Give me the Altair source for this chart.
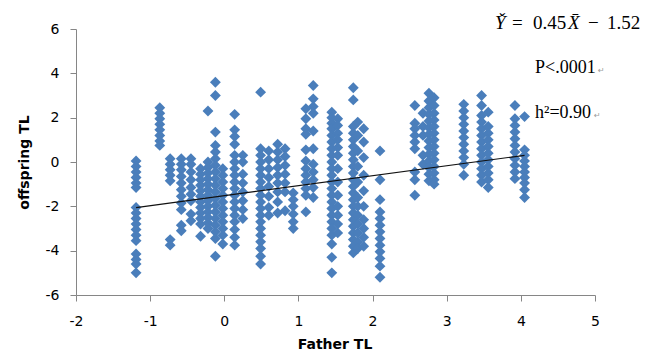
import altair as alt
import pandas as pd

# Father TL column positions and offspring TL values
father_values = [-1.19, -0.87, -0.73, -0.58, -0.45, -0.32, -0.22, -0.12, -0.02, 0.14,
                 0.25, 0.49, 0.60, 0.72, 0.82, 0.93, 1.10, 1.20, 1.45, 1.53,
                 1.74, 1.80, 1.88, 2.10, 2.57, 2.68, 2.76, 2.83, 3.23, 3.47,
                 3.56, 3.92, 4.05]

offspring_by_father = [
    [0.05, -0.2, -0.45, -0.7, -0.95, -1.15, -2.05, -2.3, -2.55, -2.8, -3.05, -3.3, -3.55, -4.15, -4.4, -4.6, -5.0],
    [2.45, 2.2, 1.95, 1.7, 1.45, 1.2, 0.95, 0.75],
    [0.15, -0.1, -0.35, -0.6, -0.85, -3.5, -3.75],
    [0.15, -0.1, -0.35, -0.65, -0.95, -1.25, -1.55, -1.85, -2.15, -2.85, -3.1],
    [0.15, -0.1, -0.45, -0.8, -1.15, -1.45, -1.75, -2.35, -2.65],
    [-0.3, -0.55, -0.8, -1.05, -1.3, -1.55, -1.8, -2.05, -2.3, -2.55, -2.8, -3.35],
    [2.3, 0.0, -0.25, -0.5, -0.75, -1.0, -1.25, -1.5, -1.75, -2.0, -2.25, -2.5, -2.75, -3.0],
    [3.6, 3.0, 1.35, 0.75, 0.45, 0.15, -0.15, -0.45, -0.75, -1.05, -1.35, -1.65, -1.95, -2.25, -2.55, -2.85, -3.15, -3.45, -4.25],
    [-0.3, -0.6, -0.9, -1.2, -1.5, -1.8, -2.1, -2.4, -2.7, -3.0, -3.3, -3.7],
    [2.15, 1.45, 1.15, 0.8, 0.3, 0.0, -0.3, -0.6, -0.9, -1.2, -1.5, -1.8, -2.1, -2.4, -2.7, -3.05, -3.4, -3.75],
    [0.3, 0.0, -0.55, -0.95, -1.35, -1.75, -2.15, -2.55],
    [3.15, 0.6, 0.3, 0.0, -0.3, -0.6, -0.9, -1.2, -1.5, -1.8, -2.1, -2.4, -2.7, -3.0, -3.3, -3.6, -3.9, -4.25, -4.6],
    [0.5, 0.1, -0.3, -0.7, -1.1, -1.55, -2.05, -2.4],
    [0.8, 0.45, 0.1, -0.25, -0.6, -0.95, -1.35, -1.8, -2.3],
    [0.6, 0.25, -0.15, -0.55, -0.95, -1.35, -2.2],
    [-1.4, -1.7, -2.0, -2.35, -2.7, -3.0],
    [2.4, 1.95, 1.5, 1.25, 0.55, 0.05, -0.3, -0.6, -0.9, -1.2, -1.5, -2.25],
    [3.45, 2.85, 2.5, 2.2, 1.4, 0.6, -0.1, -0.45, -0.8, -1.15, -1.6],
    [2.25, 2.0, 1.75, 1.5, 1.2, 0.9, 0.6, 0.3, 0.0, -0.3, -0.6, -0.9, -1.2, -1.5, -1.8, -2.1, -2.4, -2.7, -3.0, -3.3, -3.7, -4.3, -5.0],
    [1.95, 1.65, 1.3, 1.0, 0.65, 0.3, -0.3, -0.9, -1.5, -2.0, -2.4, -2.8, -3.2],
    [3.35, 2.8, 1.6, 1.3, 1.0, 0.7, 0.4, 0.1, -0.2, -0.5, -0.8, -1.1, -1.4, -1.7, -2.0, -2.3, -2.6, -2.9, -3.2, -3.5, -3.8, -4.1],
    [1.8, 1.2, 0.5, -0.2, -0.9, -1.6, -2.0, -2.4, -2.8, -3.2, -3.6, -3.9],
    [1.5, 0.9, 0.2, -0.6, -1.3, -2.0, -2.6, -3.0, -3.4, -3.8],
    [0.5, -0.8, -1.7, -2.25, -2.55, -2.85, -3.15, -3.45, -3.75, -4.05, -4.35, -4.7, -5.2],
    [2.55, 1.75, 1.5, 1.2, 0.9, 0.6, -0.45, -0.8, -1.5],
    [2.2, 1.6, 1.2, 0.3, -0.1],
    [3.1, 2.75, 2.45, 2.15, 1.85, 1.55, 1.25, 0.95, 0.65, 0.35, 0.05, -0.25, -0.55, -0.85],
    [2.9, 2.55, 2.2, 1.9, 1.6, 1.3, 1.0, 0.7, 0.4, 0.1, -0.2, -0.5, -0.8, -1.0],
    [2.6, 2.3, 2.0, 1.7, 1.4, 1.1, 0.8, 0.5, 0.2, -0.1, -0.6],
    [3.0, 2.55, 2.1, 1.8, 1.5, 1.2, 0.9, 0.6, 0.3, 0.0, -0.3, -0.6, -0.9],
    [2.25, 1.6, 1.3, 1.0, 0.7, 0.4, 0.1, -0.2, -0.5, -0.8, -1.15],
    [2.55, 1.95, 1.65, 1.35, 1.05, 0.75, 0.45, 0.15, -0.15, -0.45, -0.75],
    [2.05, 0.55, 0.3, 0.05, -0.2, -0.45, -0.7, -0.95, -1.25, -1.6],
]

# regression line
slope = 0.45
intercept = -1.52
line_x = [-1.19, 4.05]

x_ticks = [-2, -1, 0, 1, 2, 3, 4, 5]
y_ticks = [-6, -4, -2, 0, 2, 4, 6]

rows = []
for fx, ys in zip(father_values, offspring_by_father):
    for yv in ys:
        rows.append({"father": fx, "offspring": yv})
points_df = pd.DataFrame(rows)
line_df = pd.DataFrame({"father": line_x, "offspring": [slope * v + intercept for v in line_x]})

W, H = 519, 266

xscale = alt.Scale(domain=[-2, 5], nice=False, zero=False)
yscale = alt.Scale(domain=[-6, 6], nice=False, zero=False)

x_axis = alt.Axis(values=x_ticks, title="Father TL", labelFlush=False, labelPadding=13,
                  labelExpr="'' + datum.value",
                  titleX=W / 2 - 1, titleY=49, titleBaseline="middle", titleAlign="center")
y_axis = alt.Axis(values=y_ticks, title="offspring TL", labelFlush=False, labelPadding=11,
                  labelExpr="'' + datum.value",
                  titleX=-52, titleY=H / 2, titleBaseline="middle", titleAlign="center")

points = alt.Chart(points_df).mark_point(
    shape="diamond", filled=True, size=118, color="#4A7EBB", opacity=1
).encode(
    x=alt.X("father:Q", scale=xscale, axis=x_axis),
    y=alt.Y("offspring:Q", scale=yscale, axis=y_axis),
)

line = alt.Chart(line_df).mark_line(color="#111111", strokeWidth=1.2).encode(
    x=alt.X("father:Q", scale=xscale),
    y=alt.Y("offspring:Q", scale=yscale),
)

serif = "Liberation Serif"
eq_parts = [
    ("Y\u030C", 419, "italic"),
    ("=", 436, "normal"),
    ("0.45", 457, "normal"),
    ("X\u0304", 492, "italic"),
    ("\u2212", 512, "normal"),
    ("1.52", 531, "normal"),
]
texts = []
for txt, px, style in eq_parts:
    texts.append(
        alt.Chart(pd.DataFrame({"t": [txt]})).mark_text(
            font=serif, fontSize=19, fontStyle=style, align="left", baseline="alphabetic", color="#000000"
        ).encode(text="t:N", x=alt.value(px), y=alt.value(0))
    )

notes = [("P<.0001", 459, 44), ("h\u00B2=0.90", 459, 89)]
for txt, px, py in notes:
    texts.append(
        alt.Chart(pd.DataFrame({"t": [txt]})).mark_text(
            font=serif, fontSize=18, align="left", baseline="alphabetic", color="#000000"
        ).encode(text="t:N", x=alt.value(px), y=alt.value(py))
    )
marks = [("\u21B5", 522, 44), ("\u21B5", 518, 89)]
for txt, px, py in marks:
    texts.append(
        alt.Chart(pd.DataFrame({"t": [txt]})).mark_text(
            font="DejaVu Sans", fontSize=8, align="left", baseline="alphabetic", color="#9A9A9A"
        ).encode(text="t:N", x=alt.value(px), y=alt.value(py))
    )

chart = alt.layer(points, line, *texts).properties(
    width=W, height=H, autosize="none",
    padding={"left": 68, "top": 21, "right": 50, "bottom": 58},
).configure_view(stroke=None).configure_axis(
    grid=False,
    domainColor="#868686",
    tickColor="#868686",
    tickSize=6,
    labelFont="DejaVu Sans",
    labelFontSize=14,
    labelColor="#000000",
    titleFont="DejaVu Sans",
    titleFontSize=14,
    titleFontWeight="bold",
    titleColor="#000000",
    labelOverlap=False,
)

chart.save("out.html", embed_options={"renderer": "svg", "actions": False})
